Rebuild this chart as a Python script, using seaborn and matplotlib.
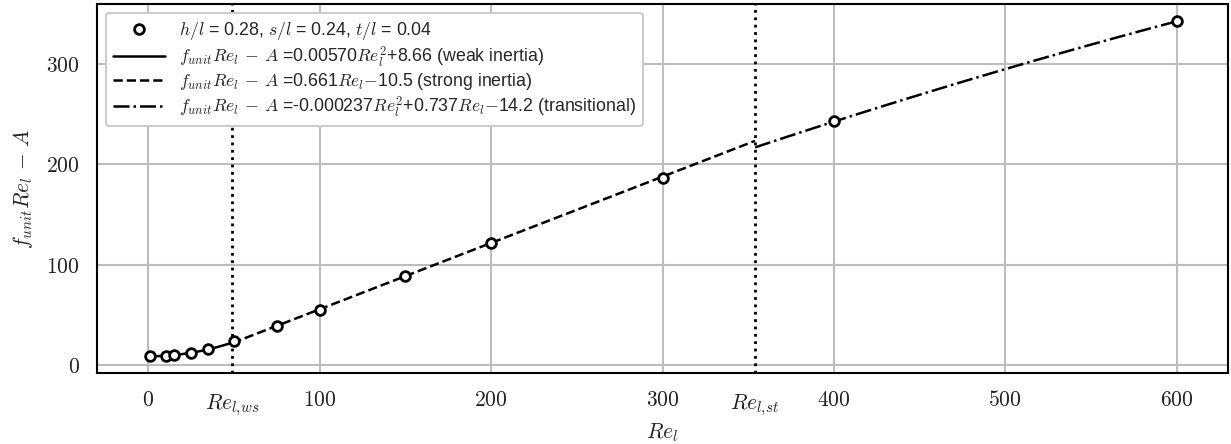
import numpy as np
import pandas as pd
import matplotlib
matplotlib.use("Agg")
import matplotlib.pyplot as plt
import seaborn as sns

# ---- data ----
re_points = [1, 10, 15, 25, 35, 50, 75, 100, 150, 200, 300, 400, 600]
f_points = [8.7, 9.2, 10.0, 12.4, 16.0, 24.0, 38.8, 54.8, 89.0, 122.0, 186.0, 243.0, 342.7]

re_ws = 49.0
re_st = 354.0

# fit coefficients as printed in the legend (highest power first)
weak_coef = [0.00570, 0.0, 8.66]
strong_coef = [0.661, -10.5]
trans_coef = [-0.000237, 0.737, -14.2]

x_ticks = [0, 100, 200, 300, 400, 500, 600]
y_ticks = [0, 100, 200, 300]

labels = {
    "pts": r"$h/l$ = 0.28, $s/l$ = 0.24, $t/l$ = 0.04",
    "weak": r"$f_{unit}Re_l\,-\,A$ =0.00570$Re_l^2$+8.66 (weak inertia)",
    "strong": r"$f_{unit}Re_l\,-\,A$ =0.661$Re_l$$-$10.5 (strong inertia)",
    "trans": r"$f_{unit}Re_l\,-\,A$ =-0.000237$Re_l^2$+0.737$Re_l$$-$14.2 (transitional)",
}

sns.set_theme(style="white")
plt.rcParams["font.family"] = ["Liberation Sans", "DejaVu Sans"]
plt.rcParams["mathtext.fontset"] = "cm"

fig = plt.figure(figsize=(12.31, 4.44), dpi=100)
ax = fig.add_axes([97 / 1231, 1 - 373 / 444, (1228 - 97) / 1231, (373 - 4) / 444])

# fit curves
x_weak = np.linspace(re_points[0], re_ws, 30)
x_strong = np.linspace(re_ws, re_st, 30)
x_trans = np.linspace(re_st, re_points[-1], 30)
df_w = pd.DataFrame({"x": x_weak, "y": np.polyval(weak_coef, x_weak)})
df_s = pd.DataFrame({"x": x_strong, "y": np.polyval(strong_coef, x_strong)})
df_t = pd.DataFrame({"x": x_trans, "y": np.polyval(trans_coef, x_trans)})

lw = 1.8
sns.lineplot(data=df_w, x="x", y="y", ax=ax, color="black", lw=lw, ls="-", label=labels["weak"])
sns.lineplot(data=df_s, x="x", y="y", ax=ax, color="black", lw=lw, ls="--", label=labels["strong"])
sns.lineplot(data=df_t, x="x", y="y", ax=ax, color="black", lw=lw, ls="-.", label=labels["trans"])

df_p = pd.DataFrame({"x": re_points, "y": f_points})
ax.plot(df_p["x"], df_p["y"], ls="none", marker="o", ms=7, mfc="white", mec="black",
        mew=2, label=labels["pts"], zorder=5)

ax.axvline(re_ws, color="black", ls=":", lw=2)
ax.axvline(re_st, color="black", ls=":", lw=2)

ax.set_xlim(-30, 630)
ax.set_ylim(-8, 360)

fs = 15.5
ax.set_xticks(x_ticks, labels=[f"${v}$" for v in x_ticks])
ax.set_yticks(y_ticks, labels=[f"${v}$" for v in y_ticks])
ax.set_xticks([re_ws, re_st], labels=[r"$Re_{l,\!ws}$", r"$Re_{l,\!st}$"], minor=True)
ax.tick_params(axis="both", which="major", direction="out", length=6.5, width=1.5,
               labelsize=fs, color="black", labelcolor="#222222", pad=6)
ax.tick_params(axis="x", which="minor", length=0, labelsize=fs, pad=14,
               labelcolor="#222222")
ax.grid(True, which="major", color="#bdbdbd", lw=1.5)
ax.grid(False, which="minor")
for s in ax.spines.values():
    s.set_color("black")
    s.set_linewidth(1.5)

ax.set_xlabel(r"$Re_l$", fontsize=fs, labelpad=2.5)
ax.set_ylabel(r"$f_{unit}Re_l\,-\,A$", fontsize=fs, labelpad=8)

handles, labs = ax.get_legend_handles_labels()
order = [labs.index(labels[k]) for k in ["pts", "weak", "strong", "trans"]]
leg = ax.legend([handles[i] for i in order], [labs[i] for i in order], loc="upper left",
                fontsize=12.8, handlelength=2.9, frameon=True, fancybox=True,
                edgecolor="#cccccc", framealpha=1, borderaxespad=0.5, labelspacing=0.12)
leg.get_frame().set_linewidth(1.5)

fig.savefig("out.png", dpi=100)
